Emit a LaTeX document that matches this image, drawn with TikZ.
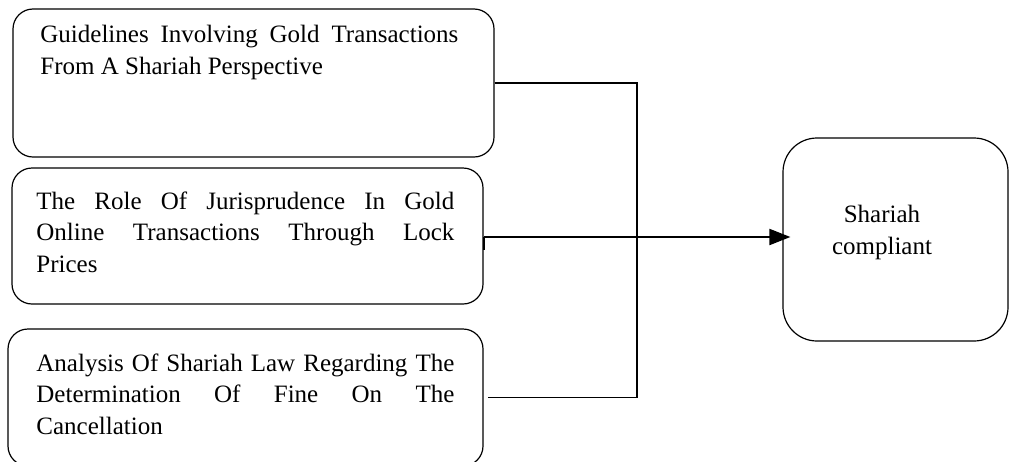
\documentclass[tikz,border=0pt]{standalone}
\usepackage{fontspec}
\setmainfont{Liberation Serif}
\usetikzlibrary{arrows.meta}
\begin{document}
\begin{tikzpicture}[x=0.5pt,y=-0.5pt,
    box/.style={draw,line width=0.6pt,rounded corners=10pt,inner sep=0pt},
    txt/.style={anchor=north west,inner sep=0pt,text width=209pt,align=justify,font=\fontsize{12.5}{15.8}\selectfont},
    link/.style={line width=0.6pt}]
  \useasboundingbox (0,0) rectangle (1011,461);
  % boxes on the left
  \node[box,minimum width=240.5pt,minimum height=74pt] (b1) at (253.5,83) {};
  \node[box,minimum width=235.5pt,minimum height=68pt] (b2) at (247.5,236) {};
  \node[box,minimum width=237.5pt,minimum height=68.5pt] (b3) at (245.5,397.5) {};
  \node[txt] (t1) at (40,25) {Guidelines Involving Gold Transactions\linebreak From A Shariah Perspective};
  \node[txt] (t2) at (36,191) {The Role Of Jurisprudence In Gold\linebreak Online Transactions Through Lock\linebreak Prices};
  \node[txt] (t3) at (36,353) {Analysis Of Shariah Law Regarding The\linebreak Determination Of Fine On The\linebreak Cancellation};
  % box on the right
  \node[box,rounded corners=17pt,minimum width=112.5pt,minimum height=101.5pt] (sc) at (895.5,239.5) {};
  \node[anchor=north,inner sep=0pt,align=center,font=\fontsize{12.5}{15.8}\selectfont] (t4) at (882,205) {Shariah\\compliant};
  % connectors
  \coordinate (j) at (637,237);
  \draw[link] (b1.east) -| (j) |- ([xshift=2pt]b3.east);
  \draw[link] (b2.east |- j) -- (j);
  \draw[line width=1pt] (b2.east |- j) -- ++(0,13);
  \draw[line width=1pt,-{Triangle[length=10.5pt,width=8pt]},shorten >=-4pt] (j) -- (sc.west |- j);
\end{tikzpicture}
\end{document}
